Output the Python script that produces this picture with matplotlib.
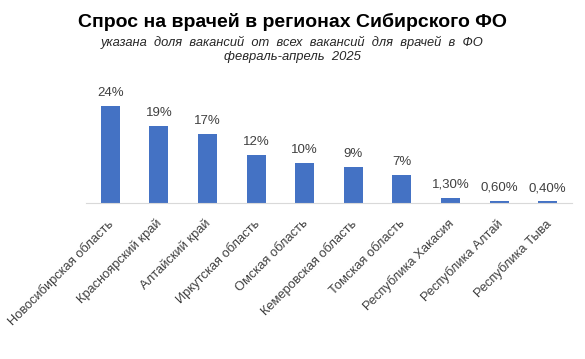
import matplotlib
matplotlib.use("Agg")
import matplotlib.pyplot as plt
from matplotlib.transforms import ScaledTranslation

regions = ["Новосибирская область", "Красноярский край", "Алтайский край",
           "Иркутская область", "Омская область", "Кемеровская область",
           "Томская область", "Республика Хакасия", "Республика Алтай",
           "Республика Тыва"]
shares = [24, 19, 17, 12, 10, 9, 7, 1.3, 0.6, 0.4]
value_labels = ["24%", "19%", "17%", "12%", "10%", "9%", "7%",
                "1,30%", "0,60%", "0,40%"]

plt.rcParams["font.family"] = ["Liberation Sans", "DejaVu Sans"]

W, H = 585, 359
fig = plt.figure(figsize=(W / 100, H / 100), dpi=100)
ax = fig.add_axes([86 / W, 1 - 203 / H, (572 - 86) / W, 101 / H])

x = range(len(regions))
ax.bar(x, shares, width=0.39, color="#4472C4")
for i, (v, lab) in enumerate(zip(shares, value_labels)):
    ax.annotate(lab, (i, v), xytext=(0, 5), textcoords="offset points",
                ha="center", va="bottom", fontsize=9.5, color="#404040")

ax.set_xlim(-0.5, len(regions) - 0.5)
ax.set_ylim(0, 25)
ax.set_yticks([])
ax.set_xticks(list(x))
ax.set_xticklabels(regions, rotation=45, ha="right", rotation_mode="anchor",
                   fontsize=9.3, color="#404040")
ax.tick_params(axis="x", length=0, pad=6)
# небольшой сдвиг подписей влево-вниз
shift = ScaledTranslation(-3 / 100, -6 / 100, fig.dpi_scale_trans)
for t in ax.get_xticklabels():
    t.set_transform(t.get_transform() + shift)
for s in ["top", "right", "left"]:
    ax.spines[s].set_visible(False)
ax.spines["bottom"].set_color("#d9d9d9")

fig.text(0.5, 1 - 22 / H, "Спрос на врачей в регионах Сибирского ФО",
         ha="center", va="center", fontsize=14, fontweight="bold")
fig.text(0.5, 1 - 42 / H, "указана  доля  вакансий  от  всех  вакансий  для  врачей  в  ФО",
         ha="center", va="center", fontsize=9.3, style="italic", color="#262626")
fig.text(0.5, 1 - 57 / H, "февраль-апрель  2025",
         ha="center", va="center", fontsize=9.4, style="italic", color="#262626")

fig.savefig("out.png", dpi=100)
